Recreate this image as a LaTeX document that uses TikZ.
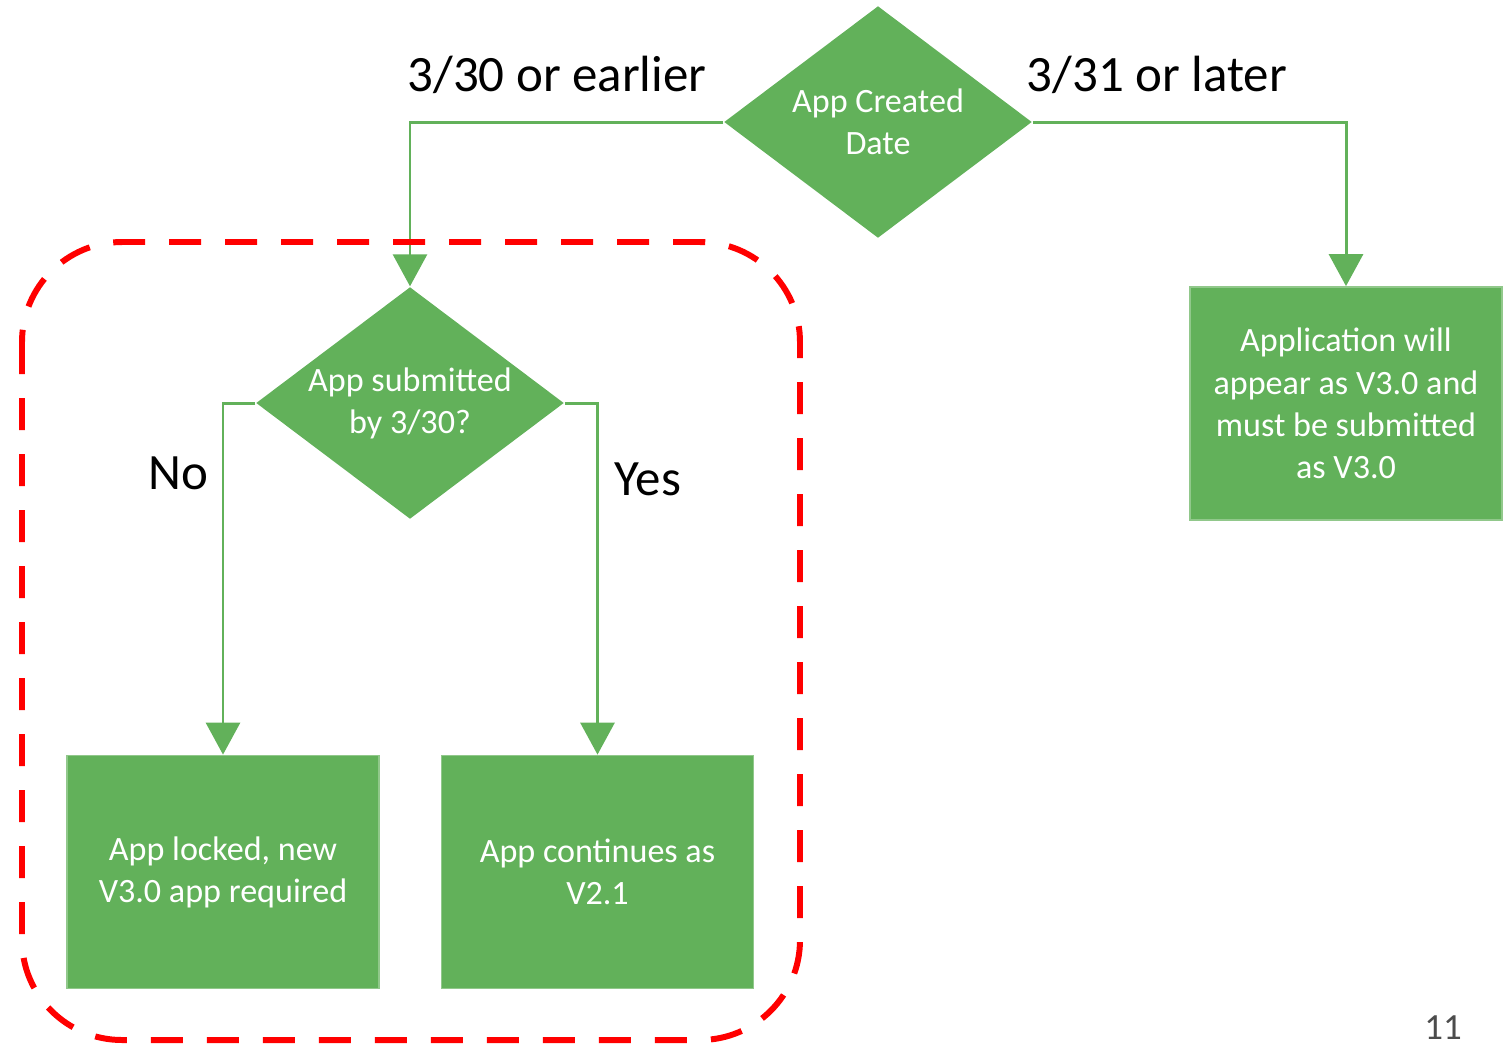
\documentclass[tikz,border=0pt]{standalone}
\usepackage{fontspec}
\setmainfont{Carlito}
\usetikzlibrary{shapes.geometric,arrows.meta}
\definecolor{leaf}{RGB}{98,177,90}
\definecolor{alarm}{RGB}{255,0,0}
\begin{document}
\begin{tikzpicture}[
    x=1cm, y=1cm,
    box/.style={fill=leaf, draw=leaf!70!white, line width=0.5pt, minimum width=3.12cm,
                minimum height=2.33cm, align=center, text=white,
                font=\fontsize{9.7}{12}\selectfont, inner sep=0pt},
    decision/.style={diamond, aspect=1.33, fill=leaf, minimum width=3.08cm, minimum height=2.32cm,
                align=center, text=white, font=\fontsize{9.7}{12}\selectfont, inner sep=0pt},
    arr/.style={-{Triangle[width=0.34cm,length=0.32cm]}, draw=leaf, line width=0.85pt},
    note/.style={font=\fontsize{14.5}{17}\selectfont, inner sep=0pt}
  ]
    \useasboundingbox (0,0) rectangle (15.12,-10.44);

    \node[decision] (created)   at (8.78,-1.22)  {App Created\\Date};
    \node[decision] (submitted) at (4.10,-4.03)  {App submitted\\by 3/30?};
    \node[box]      (later)     at (13.46,-4.035) {Application will\\appear as V3.0 and\\must be submitted\\as V3.0};
    \node[box]      (locked)    at (2.23,-8.72)  {App locked, new\\V3.0 app required};
    \node[box]      (continues) at (5.975,-8.72) {App continues as\\V2.1};

    \node[note] (early) at (5.57,-0.75)  {3/30 or earlier};
    \node[note] (late)  at (11.57,-0.75) {3/31 or later};
    \node[note] (no)    at (1.78,-4.73)  {No};
    \node[note] (yes)   at (6.48,-4.79)  {Yes};

    \draw[arr] (created.west) -| (submitted.north);
    \draw[arr] (created.east) -| (later.north);
    \draw[arr] (submitted.west) -| (locked.north);
    \draw[arr] (submitted.east) -| (continues.north);

    % phase under review
    \draw[alarm, line width=1.7pt, dash pattern=on 0.32cm off 0.24cm, rounded corners=1cm]
      (0.22,-2.42) rectangle (8.00,-10.40);

    \node[text=black!70, font=\fontsize{10.5}{12}\selectfont, inner sep=0pt] (page) at (14.43,-10.28) {11};
\end{tikzpicture}
\end{document}
